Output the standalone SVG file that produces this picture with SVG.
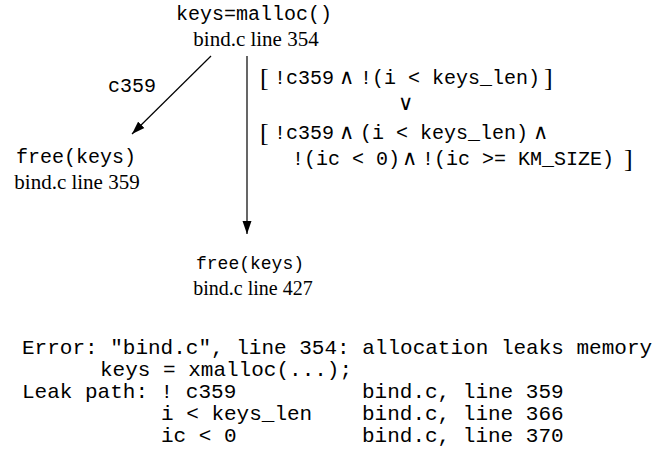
<svg xmlns="http://www.w3.org/2000/svg" width="657" height="463" viewBox="0 0 657 463">
<style>
.mono{font-family:"Liberation Mono","DejaVu Sans Mono",monospace;fill:#000}
.serif{font-family:"Liberation Serif","Times New Roman",serif;fill:#000}
.op{font-family:"DejaVu Sans","Noto Sans",sans-serif;font-weight:200;fill:#000;font-size:21px}
.br{font-family:"Liberation Serif","Times New Roman",serif;fill:#000;font-size:26px;font-weight:normal}
.edge{stroke:#000;stroke-width:1.2;fill:none}
</style>
<defs>
<marker id="ah" markerUnits="userSpaceOnUse" markerWidth="14" markerHeight="10" refX="13" refY="5" orient="auto">
<path d="M0,0.5 L13,5 L0,9.5 Z" fill="#000"/>
</marker>
</defs>
<rect width="657" height="463" fill="#fff"/>
<g id="n_malloc">
<text class="mono" x="254" y="20" font-size="20" text-anchor="middle">keys=malloc()</text>
<text class="serif" x="256" y="46" font-size="21" text-anchor="middle">bind.c line 354</text>
</g>
<g id="n_free359">
<text class="mono" x="76" y="163" font-size="20" text-anchor="middle">free(keys)</text>
<text class="serif" x="77" y="189" font-size="21" text-anchor="middle">bind.c line 359</text>
</g>
<g id="n_free427">
<text class="mono" x="250" y="269" font-size="18" text-anchor="middle">free(keys)</text>
<text class="serif" x="253" y="295" font-size="20" text-anchor="middle">bind.c line 427</text>
</g>
<g id="connectors">
<line class="edge" x1="211" y1="56" x2="132" y2="134" marker-end="url(#ah)"/>
<line class="edge" x1="247" y1="56" x2="247" y2="234" marker-end="url(#ah)"/>
<text class="mono" x="108" y="92" font-size="20">c359</text>
<g id="cond" class="mono" font-size="20">
<text class="br" x="260" y="86">[</text>
<text x="274" y="84">!c359</text>
<text class="op" x="339" y="84">∧</text>
<text x="360" y="84">!(i &lt; keys_len)</text>
<text class="br" x="544" y="86">]</text>
<text class="op" x="405" y="110" text-anchor="middle">∨</text>
<text class="br" x="260" y="141">[</text>
<text x="274" y="139">!c359</text>
<text class="op" x="339" y="139">∧</text>
<text x="360" y="139">(i &lt; keys_len)</text>
<text class="op" x="533" y="139">∧</text>
<text x="292" y="165">!(ic &lt; 0)</text>
<text class="op" x="402" y="165">∧</text>
<text x="422" y="165">!(ic &gt;= KM_SIZE)</text>
<text class="br" x="624" y="167">]</text>
</g>
</g>
<g id="report" class="mono" font-size="21">
<text x="22" y="354">Error: "bind.c", line 354: allocation leaks memory</text>
<text x="100" y="376">keys = xmalloc(...);</text>
<text x="22" y="398">Leak path: ! c359</text>
<text x="161" y="420">i &lt; keys_len</text>
<text x="161" y="442">ic &lt; 0</text>
<text x="362" y="398">bind.c, line 359</text>
<text x="362" y="420">bind.c, line 366</text>
<text x="362" y="442">bind.c, line 370</text>
</g>
</svg>
